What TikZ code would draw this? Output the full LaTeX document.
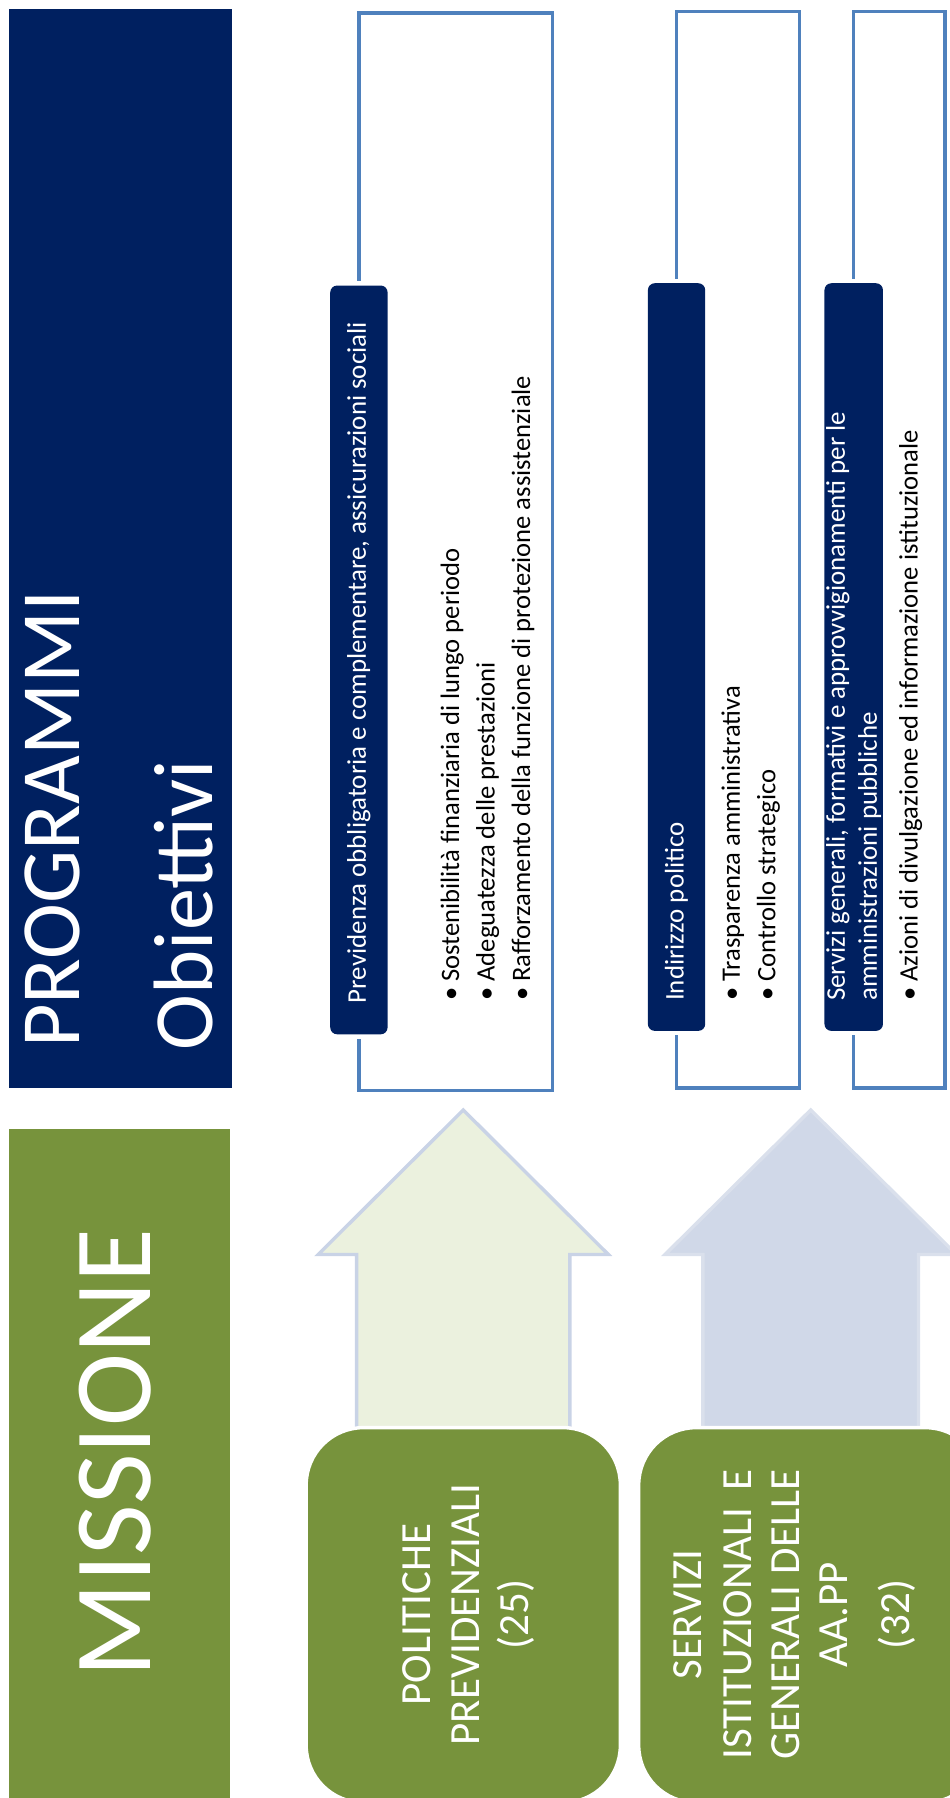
\documentclass[tikz,border=0pt]{standalone}
\usepackage{fontspec}
\setmainfont{Carlito}
\usetikzlibrary{calc,backgrounds}

\definecolor{navy}{HTML}{002060}
\definecolor{olive}{HTML}{77933C}
\definecolor{frameblue}{HTML}{4F81BD}
\definecolor{arrowgreen}{HTML}{EBF1DE}
\definecolor{arrowgreenline}{HTML}{C9D3E6}
\definecolor{arrowblue}{HTML}{D0D8E8}
\definecolor{arrowblueline}{HTML}{DAE0EC}

\newcommand\fsz[2]{\fontsize{#1}{#2}\selectfont}

\begin{document}
\begin{tikzpicture}[x=1pt,y=-1pt,
  panel/.style={inner sep=0pt,outer sep=0pt,anchor=north west},
  bar/.style={panel,fill=navy,rounded corners=6pt,minimum width=50pt},
  frame/.style={draw=frameblue,line width=3pt},
  hdr/.style={rotate=90,anchor=west,text=white,inner sep=0pt,align=left,font=\fsz{23.5}{28}},
  items/.style={rotate=90,anchor=north west,inner sep=0pt,align=left,font=\fsz{23.2}{31}},
  mission/.style={panel,fill=olive,draw=white,line width=3pt,rounded corners=50pt,minimum height=327pt},
  mline/.style={rotate=90,anchor=base,text=white,inner sep=0pt,font=\fsz{37.5}{42.5}},
  bigtxt/.style={rotate=90,text=white,inner sep=0pt},
  arrowA/.style={fill=arrowgreen,draw=arrowgreenline,line width=3pt},
  arrowB/.style={fill=arrowblue,draw=arrowblueline,line width=3pt}
]
\useasboundingbox (0,0) rectangle (828,1568);

% left column: headings
\node[panel,fill=navy,minimum width=194pt,minimum height=941pt] (prog) at (8,8) {};
\node[bigtxt,anchor=base west,font=\fsz{73.5}{88}] (progtxt) at (69,914) {PROGRAMMI};
\node[bigtxt,anchor=base west,font=\fsz{73.5}{88}] (objtxt) at (185,916) {Obiettivi};

\node[panel,fill=olive,minimum width=193pt,minimum height=620pt] (miss) at (8,985) {};
\node[bigtxt,anchor=base,font=\fsz{96}{110}] (misstxt) at (131,1267) {MISSIONE};

% programme bars
\node[bar,minimum height=653pt] (bar1) at (288,249) {};
\node[bar,minimum height=652pt] (bar2) at (565,247) {};
\node[bar,minimum height=652pt,minimum width=51pt] (bar3) at (719,247) {};

% brackets round each programme
\coordinate (f1ne) at (482,11.5);  \coordinate (f1se) at (482,951);
\coordinate (f2ne) at (697,10);    \coordinate (f2se) at (697,949);
\coordinate (f3ne) at (824,10);    \coordinate (f3se) at (824,949);
\draw[frame] ([yshift=4pt]bar1.north) |- (f1ne) -- (f1se) -| ([yshift=-4pt]bar1.south);
\draw[frame] ([yshift=4pt]bar2.north) |- (f2ne) -- (f2se) -| ([yshift=-4pt]bar2.south);
\draw[frame] ([yshift=4pt]bar3.north) |- (f3ne) -- (f3se) -| ([yshift=-4pt]bar3.south);

% programme titles
\node[hdr] (h1) at ([yshift=27pt]bar1.south) {Previdenza obbligatoria e complementare, assicurazioni sociali};
\node[hdr] (h2) at ([yshift=26pt]bar2.south) {Indirizzo politico};
\node[hdr] (h3) at ([yshift=26pt]bar3.south) {Servizi generali, formativi e approvvigionamenti per le\\amministrazioni pubbliche};

% objectives
\node[items] (o1) at (384,873) {• Sostenibilità finanziaria di lungo periodo\\• Adeguatezza delle prestazioni\\• Rafforzamento della funzione di protezione assistenziale};
\node[items] (o2) at (629,873) {• Trasparenza amministrativa\\• Controllo strategico};
\node[items] (o3) at (784,873) {• Azioni di divulgazione ed informazione istituzionale};

% missions
\node[mission,minimum width=274pt] (m1) at (267,1245) {};
\node[mission,minimum width=300pt] (m2) at (557,1245) {};

\node[mline] (m1a) at (375,1408) {POLITICHE};
\node[mline] (m1b) at (418,1408) {PREVIDENZIALI};
\node[mline] (m1c) at (461,1408) {(25)};

\node[mline] (m2a) at (612,1408) {SERVIZI};
\node[mline] (m2b) at (655,1408) {\makebox[253pt][s]{ISTITUZIONALI E}};
\node[mline] (m2c) at (697,1408) {\makebox[253pt][s]{GENERALI DELLE}};
\node[mline] (m2d) at (739,1408) {AA.PP};
\node[mline] (m2e) at (793,1408) {(32)};

% arrows from each mission up to its programmes
\begin{scope}[on background layer]
\draw[arrowA,shift={(m1.north)}] (-93,10) -- (-93,-151) -- (-126.5,-151) -- (0,-277) -- (126.5,-151) -- (93,-151) -- (93,10) -- cycle;
\draw[arrowB,shift={(m2.north)}] (-94,10) -- (-94,-151) -- (-127,-151) -- (0,-277) -- (127,-151) -- (94,-151) -- (94,10) -- cycle;
\end{scope}
\end{tikzpicture}
\end{document}
